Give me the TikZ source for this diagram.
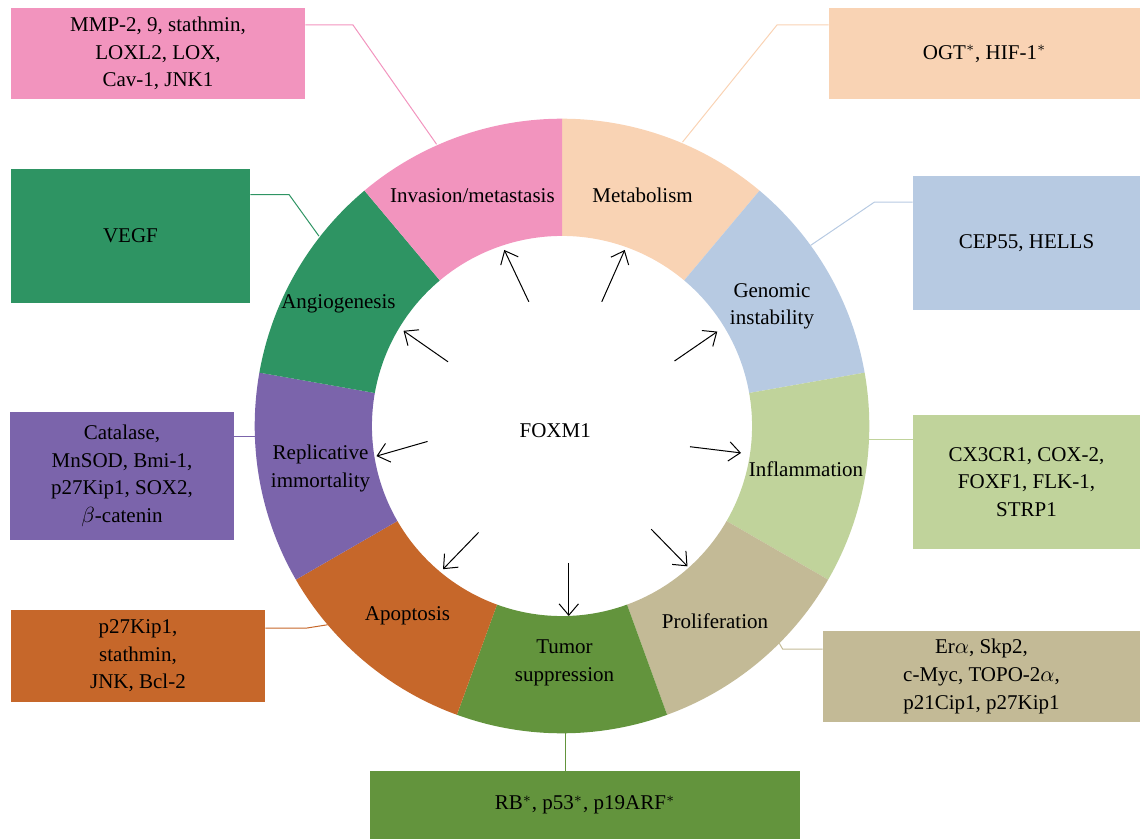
\documentclass[tikz,border=0pt]{standalone}
\usepackage{fontspec}
\setmainfont{Liberation Serif}
\usetikzlibrary{arrows.meta}

\definecolor{invcol}{RGB}{242,148,190}
\definecolor{metabcol}{RGB}{249,211,180}
\definecolor{gencol}{RGB}{183,202,226}
\definecolor{inflcol}{RGB}{192,211,155}
\definecolor{prolcol}{RGB}{195,186,150}
\definecolor{tumcol}{RGB}{99,148,61}
\definecolor{apopcol}{RGB}{198,103,42}
\definecolor{replcol}{RGB}{123,100,171}
\definecolor{angiocol}{RGB}{46,148,99}

\begin{document}
\begin{tikzpicture}[
  x=1cm,
  y=1cm,
  seglabel/.style={
    align=center,
    font=\fontsize{10.5}{13.8}\selectfont,
    inner sep=0pt
  },
  genebox/.style={
    rectangle,
    align=center,
    font=\fontsize{10.5}{13.8}\selectfont,
    inner sep=2pt
  },
  link/.style={line width=0.5pt},
  fxarrow/.style={-{Straight Barb[length=2mm,width=3.4mm]}, line width=0.5pt, draw=black}
]
\useasboundingbox (-9.876,-7.258) rectangle (10.157,7.486);

% ring segments
\fill[metabcol] (90:3.34) arc[start angle=90, end angle=50, radius=3.34]
  -- (50:5.40) arc[start angle=50, end angle=90, radius=5.40] -- cycle;
\fill[gencol] (50:3.34) arc[start angle=50, end angle=10, radius=3.34]
  -- (10:5.40) arc[start angle=10, end angle=50, radius=5.40] -- cycle;
\fill[inflcol] (10:3.34) arc[start angle=10, end angle=-30, radius=3.34]
  -- (-30:5.40) arc[start angle=-30, end angle=10, radius=5.40] -- cycle;
\fill[prolcol] (-30:3.34) arc[start angle=-30, end angle=-70, radius=3.34]
  -- (-70:5.40) arc[start angle=-70, end angle=-30, radius=5.40] -- cycle;
\fill[tumcol] (-70:3.34) arc[start angle=-70, end angle=-110, radius=3.34]
  -- (-110:5.40) arc[start angle=-110, end angle=-70, radius=5.40] -- cycle;
\fill[apopcol] (-110:3.34) arc[start angle=-110, end angle=-150, radius=3.34]
  -- (-150:5.40) arc[start angle=-150, end angle=-110, radius=5.40] -- cycle;
\fill[replcol] (210:3.34) arc[start angle=210, end angle=170, radius=3.34]
  -- (170:5.40) arc[start angle=170, end angle=210, radius=5.40] -- cycle;
\fill[angiocol] (170:3.34) arc[start angle=170, end angle=130, radius=3.34]
  -- (130:5.40) arc[start angle=130, end angle=170, radius=5.40] -- cycle;
\fill[invcol] (130:3.34) arc[start angle=130, end angle=90, radius=3.34]
  -- (90:5.40) arc[start angle=90, end angle=130, radius=5.40] -- cycle;

% segment labels
\node[seglabel] (invlbl) at (-1.574, 4.047) {Invasion/metastasis};
\node[seglabel] (metablbl) at (1.416, 4.047) {Metabolism};
\node[seglabel] (genlbl) at (3.690, 2.100) {Genomic\\instability};
\node[seglabel] (infllbl) at (4.288, -0.756) {Inflammation};
\node[seglabel] (prollbl) at (2.689, -3.427) {Proliferation};
\node[seglabel] (tumlbl) at (0.044, -4.165) {Tumor\\suppression};
\node[seglabel] (apoplbl) at (-2.715, -3.339) {Apoptosis};
\node[seglabel] (repllbl) at (-4.244, -0.747) {Replicative\\immortality};
\node[seglabel] (angiolbl) at (-3.928, 2.144) {Angiogenesis};

\node[seglabel] (foxm1) at (-0.12, -0.08) {FOXM1};

% arrows from the hub
\foreach \sx/\sy/\ex/\ey [count=\i] in {
    0.699/2.183/1.102/3.093,
    1.977/1.142/2.729/1.659,
    2.249/-0.364/3.146/-0.473,
    1.568/-1.814/2.205/-2.466,
    0.119/-2.407/0.119/-3.339,
    -1.466/-1.870/-2.091/-2.516,
    -2.362/-0.271/-3.260/-0.529,
    -2.003/1.128/-2.785/1.673,
    -0.583/2.183/-1.014/3.093} {
  \coordinate (hubs\i) at (\sx, \sy);
  \coordinate (hube\i) at (\ex, \ey);
  \draw[fxarrow] (hubs\i) -- (hube\i);
}

% gene boxes
\node[genebox, fill=invcol, minimum width=5.166cm, minimum height=1.599cm] (invbox) at (-7.099, 6.546)
  {MMP-2, 9, stathmin,\\LOXL2, LOX,\\Cav-1, JNK1};
\node[genebox, fill=angiocol, minimum width=4.200cm, minimum height=2.355cm] (angiobox) at (-7.583, 3.339)
  {VEGF};
\node[genebox, fill=replcol, minimum width=3.936cm, minimum height=2.249cm] (replbox) at (-7.732, -0.879)
  {Catalase,\\MnSOD, Bmi-1,\\p27Kip1, SOX2,\\$\beta$-catenin};
\node[genebox, fill=apopcol, minimum width=4.464cm, minimum height=1.617cm] (apopbox) at (-7.451, -4.042)
  {p27Kip1,\\stathmin,\\JNK, Bcl-2};
\node[genebox, fill=tumcol, minimum width=7.556cm, minimum height=1.195cm] (tumbox) at (0.404, -6.660)
  {RB$^{*}$, p53$^{*}$, p19ARF$^{*}$};
\node[genebox, fill=prolcol, minimum width=5.571cm, minimum height=1.599cm] (prolbox) at (7.372, -4.402)
  {Er$\alpha$, Skp2,\\c-Myc, TOPO-2$\alpha$,\\p21Cip1, p27Kip1};
\node[genebox, fill=inflcol, minimum width=3.989cm, minimum height=2.355cm] (inflbox) at (8.163, -0.984)
  {CX3CR1, COX-2,\\FOXF1, FLK-1,\\STRP1};
\node[genebox, fill=gencol, minimum width=3.989cm, minimum height=2.355cm] (genbox) at (8.163, 3.216)
  {CEP55, HELLS};
\node[genebox, fill=metabcol, minimum width=5.465cm, minimum height=1.599cm] (metabbox) at (7.425, 6.546)
  {OGT$^{*}$, HIF-1$^{*}$};

% where the leader lines meet the ring
\coordinate (invtip) at (114:5.42);
\coordinate (metabtip) at (67:5.42);
\coordinate (gentip) at (36:5.40);
\coordinate (infltip) at (-2.6:5.40);
\coordinate (proltip) at (-45:5.40);
\coordinate (tumtip) at (-89.3:5.40);
\coordinate (apoptip) at (220.3:5.40);
\coordinate (repltip) at (181.9:5.40);
\coordinate (angiotip) at (142:5.42);

\coordinate (invbend) at (-3.673, 7.047);
\coordinate (metabbend) at (3.778, 7.047);
\coordinate (genbend) at (5.492, 3.936);
\coordinate (prolbend) at (3.877, -3.919);
\coordinate (apopbend) at (-4.481, -3.550);
\coordinate (angiobend) at (-4.797, 4.068);

\draw[link, invcol] (invbox.east |- invbend) -- (invbend) -- (invtip);
\draw[link, metabcol] (metabbox.west |- metabbend) -- (metabbend) -- (metabtip);
\draw[link, gencol] (genbox.west |- genbend) -- (genbend) -- (gentip);
\draw[link, inflcol] (inflbox.west |- infltip) -- (infltip);
\draw[link, prolcol] (prolbox.west |- prolbend) -- (prolbend) -- (proltip);
\draw[link, tumcol] (tumtip) -- (tumtip |- tumbox.north);
\draw[link, apopcol] (apopbox.east |- apopbend) -- (apopbend) -- (apoptip);
\draw[link, replcol] (replbox.east |- repltip) -- (repltip);
\draw[link, angiocol] (angiobox.east |- angiobend) -- (angiobend) -- (angiotip);
\end{tikzpicture}
\end{document}
